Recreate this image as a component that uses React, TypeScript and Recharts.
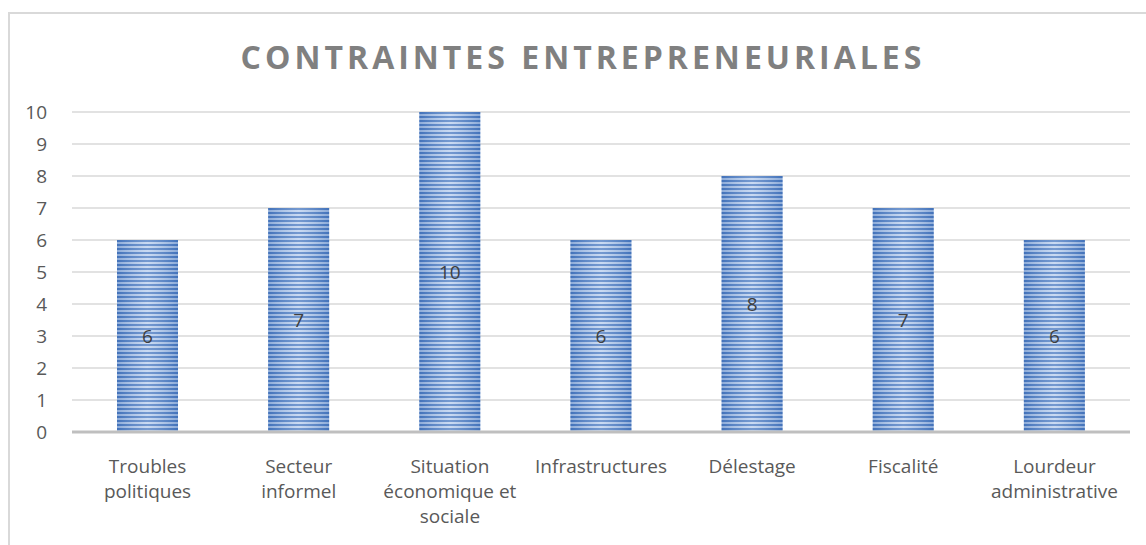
import React from "react";
import { BarChart, Bar, XAxis, YAxis, CartesianGrid, LabelList } from "recharts";

const categories = [
  "Troubles\npolitiques",
  "Secteur\ninformel",
  "Situation\néconomique et\nsociale",
  "Infrastructures",
  "Délestage",
  "Fiscalité",
  "Lourdeur\nadministrative",
];
const values = [6, 7, 10, 6, 8, 7, 6];
const yTicks = [0, 1, 2, 3, 4, 5, 6, 7, 8, 9, 10];
const title = "CONTRAINTES ENTREPRENEURIALES";

const data = categories.map((name, i) => ({ name, value: values[i] }));

const FONT = "'Open Sans', sans-serif";

function CategoryTick(props: any) {
  const { x, y, payload } = props;
  const lines = String(payload.value).split("\n");
  return (
    <g transform={`translate(${x},${y})`}>
      {lines.map((line, i) => (
        <text
          key={i}
          x={0}
          y={i * 25}
          dy={33}
          textAnchor="middle"
          fill="#595959"
          fontSize={19}
          fontFamily={FONT}
        >
          {line}
        </text>
      ))}
    </g>
  );
}

function StripedBar(props: any) {
  const { x, y, width, height } = props;
  if (!height || height <= 0) return null;
  return (
    <g>
      <rect x={x} y={y} width={width} height={height} fill="url(#stripes)" />
      <rect x={x} y={y} width={width} height={height} fill="url(#shade)" />
    </g>
  );
}

export default function App() {
  return (
    <div style={{ position: "relative", width: 1146, height: 545, background: "#fff", overflow: "hidden" }}>
      <style>{"body{margin:0}"}</style>
      <div
        style={{
          position: "absolute",
          left: 8,
          top: 12,
          width: 1160,
          height: 560,
          border: "2px solid #D9D9D9",
          boxSizing: "border-box",
        }}
      />
      <div
        style={{
          position: "absolute",
          left: 0,
          top: 35,
          width: 1166,
          textAlign: "center",
          fontFamily: FONT,
          fontWeight: 700,
          fontSize: 32,
          letterSpacing: 4,
          color: "#808080",
        }}
      >
        {title}
      </div>
      <div style={{ position: "absolute", left: 0, top: 0 }}>
        <BarChart
          width={1146}
          height={545}
          data={data}
          margin={{ top: 112, right: 16, left: 0, bottom: 0 }}
          barCategoryGap="30%"
        >
          <defs>
            <pattern id="stripes" patternUnits="userSpaceOnUse" width="8" height="4">
              <rect x="0" y="0" width="8" height="4" fill="#B8CEEE" />
              <rect x="0" y="0" width="8" height="2" fill="#4677C0" />
            </pattern>
            <linearGradient id="shade" x1="0" y1="0" x2="1" y2="0">
              <stop offset="0%" stopColor="#3A68AE" stopOpacity={0.35} />
              <stop offset="50%" stopColor="#FFFFFF" stopOpacity={0.25} />
              <stop offset="100%" stopColor="#3A68AE" stopOpacity={0.35} />
            </linearGradient>
          </defs>
          <CartesianGrid vertical={false} stroke="#D9D9D9" strokeWidth={1.5} />
          <XAxis
            dataKey="name"
            tick={<CategoryTick />}
            tickLine={false}
            axisLine={{ stroke: "#BFBFBF", strokeWidth: 3 }}
            interval={0}
            height={113}
          />
          <YAxis
            domain={[0, 10]}
            ticks={yTicks}
            width={72}
            axisLine={false}
            tickLine={false}
            tickSize={0}
            tickMargin={25}
            interval={0}
            tick={{ fill: "#595959", fontSize: 19, fontFamily: FONT }}
          />
          <Bar dataKey="value" shape={<StripedBar />} barSize={61} isAnimationActive={false}>
            <LabelList
              dataKey="value"
              position="center"
              fill="#404040"
              fontSize={19}
              fontFamily={FONT}
            />
          </Bar>
        </BarChart>
      </div>
    </div>
  );
}
